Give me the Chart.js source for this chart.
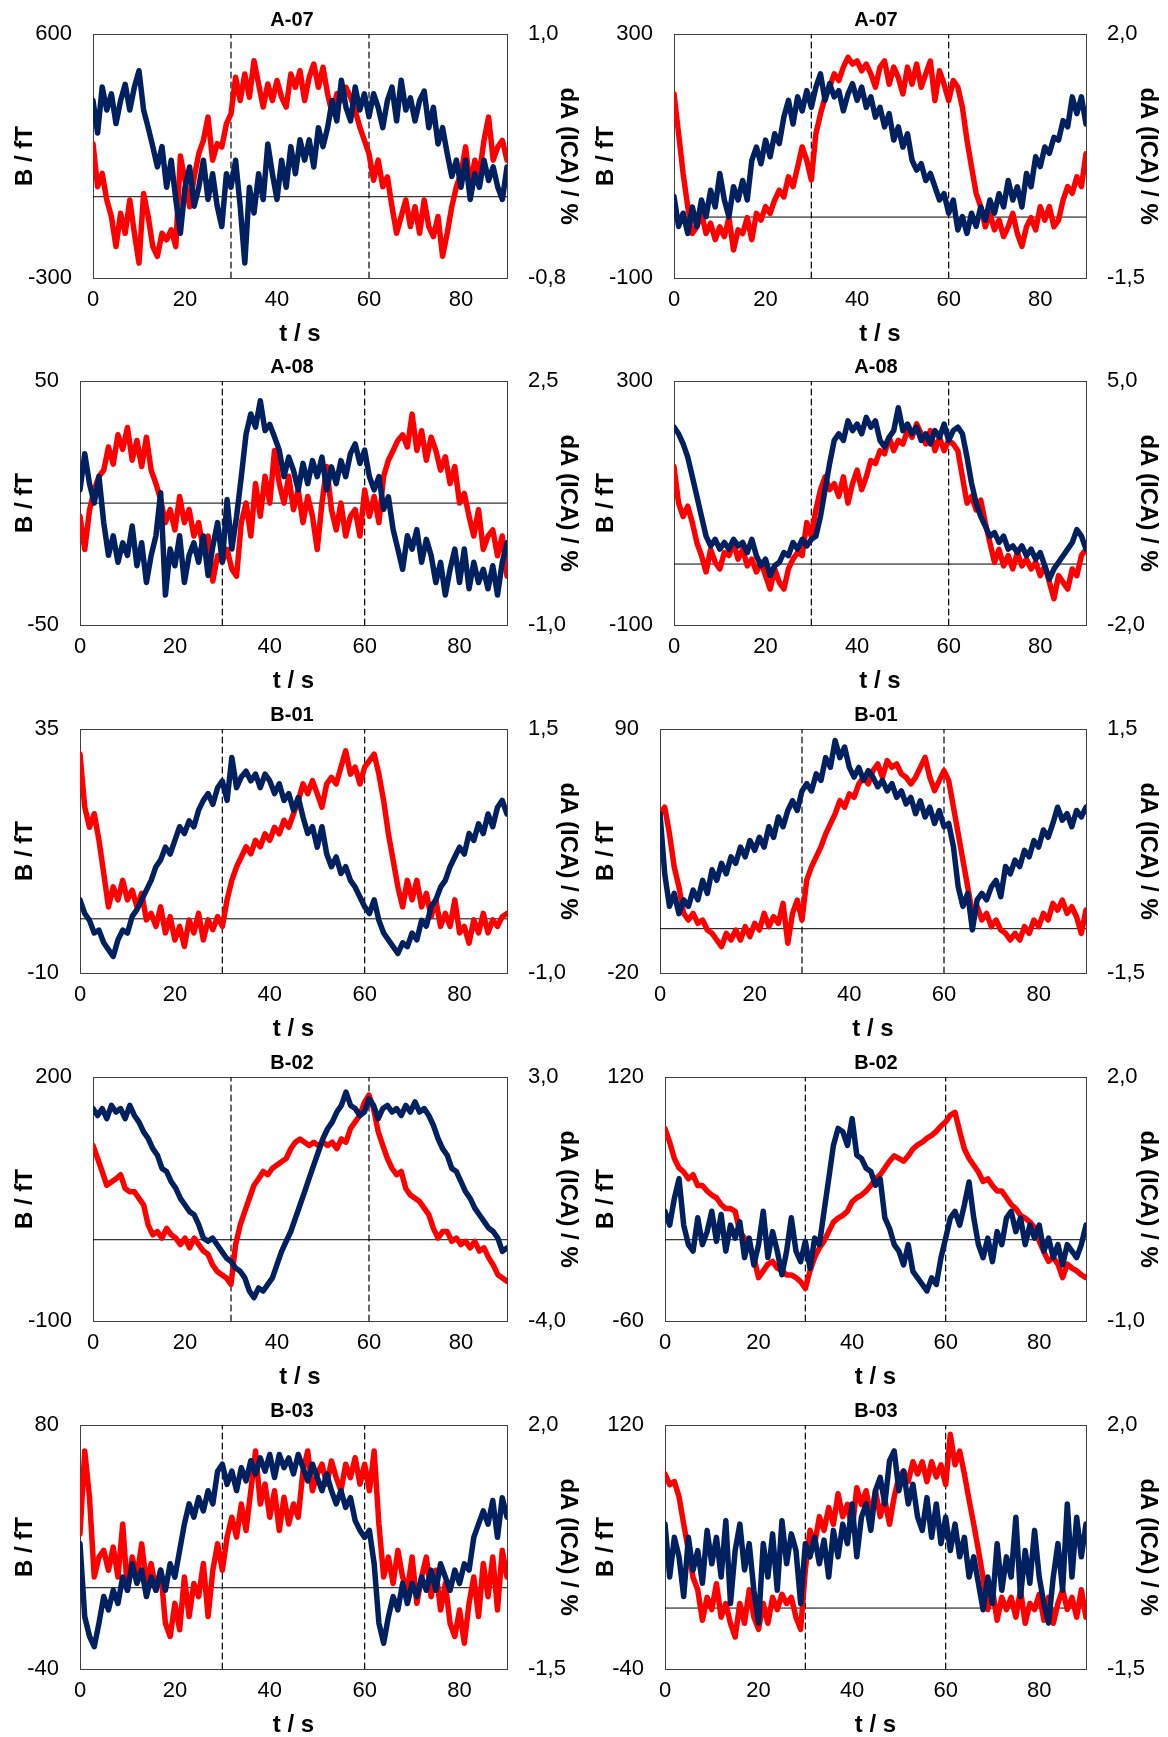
<!DOCTYPE html>
<html lang="en">
<head>
<meta charset="UTF-8">
<title>B / dA time courses</title>
<style>
  body { margin: 0; background: #fff; }
  #page { position: relative; width: 1168px; height: 1737px; overflow: hidden; }
  .panel { position: absolute; }
</style>
</head>
<body>
<div id="page"></div>
<script src="https://cdn.jsdelivr.net/npm/chart.js"></script>
<script>
// time axis in seconds (one sample per second)
const T = [0,1,2,3,4,5,6,7,8,9,10,11,12,13,14,15,16,17,18,19,20,21,22,23,24,25,26,27,28,29,30,
  31,32,33,34,35,36,37,38,39,40,41,42,43,44,45,46,47,48,49,50,51,52,53,54,55,56,57,58,59,60,
  61,62,63,64,65,66,67,68,69,70,71,72,73,74,75,76,77,78,79,80,81,82,83,84,85,86,87,88,89,90];
const X_TICKS = [0, 20, 40, 60, 80];
const STIM = [30, 60];

const PANEL_TITLES = ['A-07', 'A-07', 'A-08', 'A-08', 'B-01', 'B-01', 'B-02', 'B-02', 'B-03', 'B-03'];
const B_MIN  = [-300, -100, -50, -100, -10, -20, -100, -60, -40, -40];
const B_MAX  = [600, 300, 50, 300, 35, 90, 200, 120, 80, 120];
const DA_MIN = [-0.8, -1.5, -1.0, -2.0, -1.0, -1.5, -4.0, -1.0, -1.5, -1.5];
const DA_MAX = [1.0, 2.0, 2.5, 5.0, 1.5, 1.5, 3.0, 2.0, 2.0, 2.0];

// B / fT (red)
const B_A07_L = [196,37,86,-12,-73,-184,-61,-135,-12,-135, -245,12,-73,-184,-220,-135,-159,-122,-184,150,
  60,-37,73,159,208,294,135,196,184,269, 306,441,355,453,367,502,416,331,416,355,
  429,367,331,453,404,465,355,441,490,404, 478,380,306,380,355,404,367,318,257,208,
  159,61,135,37,73,-37,-135,-73,-12,-110, -37,-135,-12,-110,-147,-73,-220,-135,-37,37,
  86,184,37,135,86,208,294,135,184,208, 135];
const B_A07_R = [202,137,71,17,-27,-16,6,-27,-10,-37, -16,-32,-1,-54,-21,-27,-1,-37,6,-5,
  17,6,28,44,33,66,50,82,115,93, 61,137,169,197,213,235,224,246,262,251,
  256,240,251,235,213,246,256,218,246,229, 202,246,218,251,213,235,256,191,240,218,
  191,224,213,180,126,82,39,17,-16,6, -21,-5,-32,-16,6,-27,-48,-16,-1,-21,
  17,-5,17,-16,-5,28,50,39,66,50, 104];
const B_A08_L = [-5.4,-19,-3,5.4,11,13.5,23,16,28,22, 31,17.6,25.7,15,27,13.5,8,1.4,-8,-2.7,
  -11,2.7,-8,-2.7,-13.5,-8,-19,-13.5,-32,-21.6, -24,-19,-27,-30,-8,0,-13.5,8,-5.4,11,
  0,21.6,8,0,11,-2.7,5.4,-8,2.7,-5.4, -19,0,15,-2.7,-11,0,-13.5,-5.4,-2.7,-13.5,
  5.4,-5.4,2.7,-8,11,17.6,21.6,25.7,28,23, 36.5,21.6,29.7,17.6,27,21.6,13.5,19,8,15,
  0,4,-5.4,-13.5,-2.7,-19,-13.5,-11,-21.6,-13.5, -30];
const B_A08_R = [160,100,78,95,68,35,14,-13,24,3, -8,19,14,35,8,24,-3,8,-13,3,
  -19,-41,-8,-30,-41,-8,8,19,14,68, 46,89,122,143,122,132,111,143,100,132,
  154,122,143,170,165,186,181,208,186,203, 197,219,208,230,214,197,219,186,208,186,
  203,197,186,143,100,111,89,105,68,35, 3,24,-3,14,-8,19,-3,8,-8,3,
  -19,-3,-30,-57,-19,-30,-41,-8,-19,14, 24];
const B_B01_L = [30.4,20.6,16.9,19.4,14.5,8.4,2.2,5.9,3.5,7.1, 3.5,5.3,2.2,4.7,-0.2,1.0,-1.4,2.2,-2.6,0.4,
  -3.9,-1.4,-5.1,-0.2,-2.6,1.0,-3.9,-0.2,-2.0,0.4, -1.4,3.5,7.1,9.6,11.4,13.3,12.0,14.5,13.3,15.7,
  14.5,16.9,15.7,18.2,16.9,19.4,21.8,24.9,23.1,25.5, 23.1,20.6,24.9,26.1,24.9,28.0,31.0,26.7,28.0,24.9,
  28.0,29.2,30.4,26.7,21.8,15.7,10.8,5.9,2.2,7.1, 3.5,7.1,2.2,4.7,0.4,3.5,-1.4,1.0,-1.4,3.5,
  -2.6,-1.4,-4.5,-0.2,-2.6,1.0,-2.6,-0.2,-1.4,0.4, 1.0];
const B_B01_R = [51.8,54.8,42.8,27.9,18.9,6.9,3.9,6.9,2.4,3.9, -0.6,-2.1,-5.1,-8.1,-2.1,-5.1,-0.6,-5.1,0.9,-3.6,
  2.4,-0.6,6.9,0.9,5.4,2.4,11.4,-6.6,6.9,12.9, 3.9,21.9,27.9,32.4,36.9,42.8,47.3,51.8,57.8,54.8,
  60.8,59.3,65.3,68.3,65.3,71.3,74.3,68.3,75.8,72.8, 74.3,69.8,68.3,65.3,68.3,72.8,77.3,68.3,62.3,66.8,
  71.3,66.8,54.8,42.8,30.9,18.9,6.9,9.9,3.9,6.9, 0.9,3.9,-0.6,-2.1,-5.1,-2.1,-5.1,0.9,-2.1,3.9,
  0.9,6.9,3.9,11.4,8.4,12.9,6.9,9.9,5.4,-2.1, 8.4];
const B_B02_L = [116,100,84,67,71,75,80,63,59,59, 51,43,18,6,10,2,14,6,2,-6,
  2,-10,2,-6,-14,-18,-31,-39,-43,-47, -55,-6,18,35,51,67,75,84,80,88,
  92,96,100,112,120,124,120,116,120,116, 120,116,120,112,124,120,137,145,153,169,
  178,161,133,116,100,88,80,84,63,55, 51,47,39,31,14,2,10,10,-2,2,
  -6,-2,-10,-2,-14,-10,-22,-31,-43,-47, -51];
const B_B02_R = [82,72,60,53,50,45,48,40,40,36, 33,31,26,23,23,21,6,1,-4,-13,
  -28,-23,-18,-16,-21,-23,-26,-26,-28,-31, -36,-23,-13,-6,-1,6,13,16,18,21,
  28,31,33,36,40,45,48,53,58,62, 60,58,62,67,70,72,75,77,80,84,
  87,92,94,80,67,60,55,50,43,45, 40,36,36,31,26,23,18,16,13,9,
  -1,-9,-16,-13,-18,-28,-18,-21,-23,-26, -28];
const B_B03_L = [26.5,67.3,44.5,5.3,15.1,18.4,8.6,20.0,5.3,31.4, -1.2,15.1,5.3,21.6,2.1,11.9,-1.2,8.6,-17.5,-24.0,
  -7.7,-20.7,5.3,-14.2,2.1,-4.4,11.9,-14.2,8.6,21.6, 8.6,24.9,34.7,24.9,41.2,28.2,47.7,67.3,41.2,51.0,
  34.7,47.7,28.2,44.5,31.4,41.2,34.7,57.5,67.3,47.7, 55.9,60.8,51.0,62.4,54.2,47.7,60.8,54.2,64.0,51.0,
  60.8,47.7,67.3,31.4,5.3,15.1,2.1,18.4,5.3,-1.2, 15.1,-7.7,5.3,15.1,-4.4,8.6,-11.0,2.1,-17.5,-24.0,
  -11.0,-27.3,-7.7,5.3,-14.2,11.9,-4.4,15.1,-11.0,18.4, 5.3];
const B_B03_R = [88,81,83,73,55,38,20,12,-8,7, -1,16,-6,3,-10,-19,3,-10,12,-6,
  -14,3,-10,7,-1,9,3,7,-6,-14, 25,51,42,60,51,66,55,75,60,68,
  51,79,68,77,60,77,60,71,55,73, 86,90,83,96,88,96,83,96,86,94,
  81,114,94,103,88,71,55,38,20,-1, 12,-8,7,-1,7,-6,12,-10,3,-1,
  9,-8,7,-10,3,12,-1,7,-6,12, -6];

// dA (ICA) / % (dark blue)
const DA_A07_L = [0.51,0.27,0.61,0.44,0.56,0.34,0.51,0.63,0.44,0.61, 0.73,0.44,0.31,0.17,0.02,0.17,-0.13,0.07,-0.22,-0.47,
  -0.13,0.02,-0.27,-0.13,0.07,-0.22,-0.03,-0.27,-0.42,-0.03, -0.13,0.07,-0.27,-0.69,-0.13,-0.32,-0.03,-0.22,0.19,-0.03,
  -0.22,0.07,-0.13,0.17,-0.03,0.22,0.07,0.22,0.02,0.31, 0.17,0.31,0.51,0.36,0.66,0.46,0.36,0.61,0.44,0.56,
  0.39,0.56,0.46,0.31,0.51,0.61,0.36,0.66,0.44,0.53, 0.36,0.51,0.58,0.31,0.46,0.19,0.31,0.12,-0.05,0.07,
  -0.13,0.07,-0.22,-0.03,-0.13,0.07,-0.08,0.02,-0.13,-0.22, 0.02];
const DA_A07_R = [-0.33,-0.76,-0.57,-0.86,-0.48,-0.76,-0.38,-0.62,-0.24,-0.48, 0.0,-0.38,-0.62,-0.19,-0.38,-0.10,-0.38,0.19,0.38,0.14,
  0.48,0.24,0.57,0.43,0.81,1.05,0.71,1.10,0.90,1.19, 0.95,1.24,1.43,1.05,1.29,1.10,1.19,0.90,1.14,1.29,
  1.05,1.24,0.95,1.10,0.81,0.95,0.67,0.86,0.48,0.67, 0.38,0.57,0.19,0.05,0.14,-0.10,0.0,-0.19,-0.38,-0.29,
  -0.57,-0.38,-0.81,-0.62,-0.86,-0.57,-0.76,-0.48,-0.67,-0.38, -0.57,-0.29,-0.48,-0.10,-0.38,-0.19,-0.48,0.0,-0.19,0.24,
  0.10,0.38,0.29,0.52,0.48,0.76,0.67,1.10,0.86,1.10, 0.71];
const DA_A08_L = [0.94,1.46,1.03,0.75,1.13,0.47,0.0,0.28,-0.10,0.18, 0.0,0.42,-0.15,0.18,-0.39,0.0,0.28,0.9,-0.57,0.09,
  -0.15,0.28,-0.39,0.0,0.18,-0.10,0.28,-0.29,0.13,0.47, -0.10,0.80,0.09,0.56,1.13,1.74,2.03,1.84,2.22,1.79,
  1.88,1.70,1.51,1.13,1.41,1.22,0.94,1.32,1.03,1.36, 1.13,1.41,0.94,1.27,1.03,1.36,1.13,1.46,1.60,1.32,
  1.51,1.13,0.94,1.13,0.66,0.84,0.37,0.09,-0.20,0.28, 0.09,0.37,-0.10,0.23,0.0,-0.39,-0.10,-0.57,-0.20,0.09,
  -0.39,0.09,-0.48,-0.10,-0.39,-0.20,-0.48,-0.15,-0.57,-0.10, 0.18];
const DA_A08_R = [3.68,3.49,3.20,2.82,2.26,1.69,1.12,0.55,0.27,0.46, 0.18,0.37,0.18,0.46,0.27,0.37,0.08,0.46,-0.01,-0.30,
  -0.11,-0.58,-0.30,-0.20,0.08,-0.01,0.37,0.18,0.46,0.27, 0.46,0.55,1.12,1.88,2.64,3.30,3.49,3.30,3.86,3.58,
  3.77,3.49,3.96,3.68,3.86,3.30,3.11,3.39,3.58,4.24, 3.58,3.77,3.49,3.68,3.30,3.49,3.20,3.58,3.39,3.77,
  3.30,3.58,3.68,3.49,2.82,2.07,1.50,1.12,0.84,0.55, 0.65,0.37,0.55,0.18,0.27,0.08,0.27,-0.01,0.18,-0.11,
  0.08,-0.30,-0.68,-0.39,-0.20,-0.01,0.18,0.37,0.74,0.55, 0.18];
const DA_B01_L = [-0.25,-0.39,-0.46,-0.59,-0.56,-0.69,-0.76,-0.83,-0.66,-0.56, -0.59,-0.42,-0.35,-0.25,-0.15,-0.05,0.09,0.16,0.29,0.22,
  0.36,0.50,0.43,0.56,0.50,0.67,0.77,0.84,0.73,0.90, 0.97,0.77,1.21,0.90,1.01,1.07,0.97,1.04,0.90,1.04,
  0.97,0.84,0.94,0.77,0.84,0.67,0.80,0.60,0.43,0.50, 0.29,0.50,0.22,0.09,0.19,0.02,0.09,-0.05,-0.12,-0.22,
  -0.32,-0.39,-0.25,-0.46,-0.59,-0.66,-0.73,-0.80,-0.69,-0.73, -0.59,-0.66,-0.46,-0.52,-0.32,-0.25,-0.12,-0.05,0.09,0.19,
  0.29,0.22,0.43,0.36,0.53,0.43,0.63,0.50,0.70,0.77, 0.63];
const DA_B01_R = [0.46,-0.28,-0.68,-0.52,-0.77,-0.60,-0.68,-0.48,-0.60,-0.36, -0.52,-0.23,-0.36,-0.15,-0.28,-0.07,-0.15,0.05,-0.07,0.13,
  0.01,0.17,0.05,0.30,0.17,0.42,0.30,0.50,0.62,0.50, 0.74,0.83,0.74,0.95,0.87,1.15,1.03,1.36,1.15,1.28,
  1.03,0.91,1.03,0.87,0.99,0.91,0.79,0.87,0.74,0.83, 0.66,0.74,0.58,0.66,0.46,0.62,0.42,0.54,0.34,0.50,
  0.30,0.34,0.05,-0.44,-0.68,-0.52,-0.97,-0.60,-0.52,-0.60, -0.44,-0.36,-0.56,-0.19,-0.28,-0.11,-0.19,0.01,-0.07,0.13,
  0.05,0.26,0.17,0.34,0.54,0.38,0.46,0.30,0.50,0.42, 0.54];
const DA_B02_L = [2.10,1.90,2.10,1.81,2.19,2.00,2.10,1.81,2.19,1.90, 1.71,1.43,1.24,0.95,0.76,0.38,0.29,0.0,-0.19,-0.48,
  -0.67,-0.86,-0.95,-1.24,-1.62,-1.71,-1.62,-1.81,-2.00,-2.19, -2.29,-2.48,-2.57,-2.76,-3.14,-3.33,-3.05,-3.14,-2.95,-2.76,
  -2.38,-2.00,-1.71,-1.43,-1.05,-0.67,-0.29,0.10,0.48,0.86, 1.24,1.52,1.71,2.00,2.19,2.57,2.19,2.10,1.90,2.00,
  2.38,2.19,1.81,2.10,2.19,2.00,2.10,1.90,2.19,2.00, 2.29,2.00,2.10,1.90,1.62,1.24,0.95,0.76,0.38,0.29,
  0.0,-0.29,-0.48,-0.76,-0.95,-1.14,-1.33,-1.43,-1.62,-2.00, -1.90];
const DA_B02_R = [0.35,0.18,0.51,0.75,0.18,-0.06,-0.14,0.27,-0.06,0.10, 0.35,-0.02,0.31,-0.14,0.18,0.02,0.22,-0.22,0.02,-0.31,
  -0.06,0.35,-0.22,0.10,-0.14,-0.43,-0.14,0.27,-0.14,-0.27, -0.02,-0.35,0.02,-0.06,0.35,0.75,1.16,1.37,1.33,1.16,
  1.49,1.04,1.00,0.88,0.84,0.67,0.75,0.27,0.14,-0.06, -0.14,-0.31,-0.06,-0.39,-0.47,-0.55,-0.63,-0.47,-0.55,-0.22,
  0.02,0.27,0.35,0.18,0.43,0.71,0.27,-0.06,-0.22,0.02, -0.27,0.10,-0.06,0.27,0.35,0.10,0.27,-0.06,0.18,0.02,
  0.18,-0.14,0.02,-0.22,-0.06,-0.31,-0.06,-0.14,-0.22,-0.06, 0.18];
const DA_B03_L = [0.30,-0.75,-1.03,-1.18,-0.84,-0.46,-0.65,-0.37,-0.56,-0.18, -0.37,0.01,-0.27,-0.08,-0.46,-0.18,-0.37,-0.08,-0.37,0.01,
  -0.18,0.20,0.58,0.87,0.68,0.96,0.77,1.06,0.87,1.34, 1.44,1.15,1.34,1.06,1.39,1.20,1.49,1.30,1.53,1.34,
  1.58,1.25,1.58,1.39,1.53,1.30,1.58,1.39,1.20,1.44, 1.25,1.06,1.30,1.06,0.87,1.06,0.82,0.96,0.63,0.49,
  0.39,0.49,0.01,-0.84,-1.13,-0.75,-0.46,-0.65,-0.27,-0.56, -0.27,-0.46,-0.18,-0.37,-0.08,-0.37,0.01,-0.18,-0.37,-0.08,
  -0.27,0.01,-0.08,0.39,0.58,0.77,0.58,0.92,0.39,0.96, 0.68];
const DA_B03_R = [0.58,-0.18,0.39,0.11,-0.46,0.39,-0.08,0.20,-0.27,0.49, 0.01,0.39,-0.18,0.63,-0.56,0.20,0.58,-0.08,0.30,-0.37,
  -0.84,0.30,-0.18,0.44,-0.37,0.63,0.01,0.44,0.20,-0.56, 0.30,0.11,0.39,0.01,0.35,-0.18,0.49,0.11,0.58,0.30,
  0.87,0.11,0.68,0.87,0.49,1.06,1.25,0.87,1.49,1.63, 1.06,1.34,0.87,1.15,0.68,0.49,0.96,0.39,0.87,0.30,
  0.68,0.20,0.58,0.11,0.39,-0.18,0.11,-0.27,-0.65,-0.18, -0.56,0.30,-0.37,0.11,-0.18,0.68,-0.46,0.20,-0.27,0.49,
  -0.18,-0.56,-0.84,-0.18,0.30,-0.37,0.87,-0.18,0.68,0.11, 0.58];

const B_SERIES  = [B_A07_L, B_A07_R, B_A08_L, B_A08_R, B_B01_L, B_B01_R, B_B02_L, B_B02_R, B_B03_L, B_B03_R];
const DA_SERIES = [DA_A07_L, DA_A07_R, DA_A08_L, DA_A08_R, DA_B01_L, DA_B01_R, DA_B02_L, DA_B02_R, DA_B03_L, DA_B03_R];

// page layout (px)
const ROW_PLOT_TOP = [33, 380, 728, 1076, 1424];
const PLOT_H = 245;
const TOP_SPACE = 33, BOTTOM_SPACE = 71;
const COL_W = 584;
const PLOT_LEFT = [93, 674, 80, 674, 80, 660, 93, 665, 80, 665];
const PLOT_RIGHT = [507, 1086];

Chart.defaults.font.family = "'Liberation Sans', Arial, sans-serif";
Chart.defaults.color = '#000';

const RED = '#ff0000';
const NAVY = '#002060';
const FRAME = '#404040';

function commaNum(v) {
  return v.toFixed(1).replace('.', ',');
}

function drawPanel(i) {
  const col = i % 2;
  const row = Math.floor(i / 2);
  const left = col * COL_W;
  const top = ROW_PLOT_TOP[row] - TOP_SPACE;
  const h = TOP_SPACE + PLOT_H + BOTTOM_SPACE;

  const wrap = document.createElement('div');
  wrap.className = 'panel';
  wrap.style.left = left + 'px';
  wrap.style.top = top + 'px';
  const cv = document.createElement('canvas');
  cv.width = COL_W;
  cv.height = h;
  wrap.appendChild(cv);
  document.getElementById('page').appendChild(wrap);

  const leftW = PLOT_LEFT[i] - left;
  const rightW = left + COL_W - PLOT_RIGHT[col];
  const bMin = B_MIN[i], bMax = B_MAX[i];

  const datasets = [
    {
      data: T.map((t, k) => ({ x: t, y: DA_SERIES[i][k] })),
      yAxisID: 'y1', borderColor: NAVY, borderWidth: 5.5, order: 1
    },
    {
      data: T.map((t, k) => ({ x: t, y: B_SERIES[i][k] })),
      yAxisID: 'y', borderColor: RED, borderWidth: 5.5, order: 2
    },
    {
      data: [{ x: T[0], y: 0 }, { x: T[T.length - 1], y: 0 }],
      yAxisID: 'y', borderColor: '#000', borderWidth: 1, order: 5
    }
  ];
  STIM.forEach(s => {
    datasets.push({
      data: [{ x: s, y: bMin }, { x: s, y: bMax }],
      yAxisID: 'y', borderColor: '#000', borderWidth: 1.2, borderDash: [6, 4], order: 5
    });
  });

  new Chart(cv, {
    type: 'line',
    data: { datasets: datasets },
    options: {
      responsive: false,
      animation: false,
      events: [],
      elements: { point: { radius: 0 }, line: { tension: 0, borderJoinStyle: 'round', borderCapStyle: 'round' } },
      layout: { padding: 0 },
      plugins: {
        legend: { display: false },
        tooltip: { enabled: false },
        title: {
          display: true,
          text: PANEL_TITLES[i],
          font: { size: 20, weight: 'bold' },
          color: '#000',
          padding: { top: 7, bottom: 2 }
        }
      },
      scales: {
        x: {
          type: 'linear', position: 'bottom', min: 0, max: 90,
          grid: { display: false, drawTicks: false },
          border: { display: true, color: FRAME, width: 1 },
          afterBuildTicks: s => { s.ticks = X_TICKS.map(v => ({ value: v })); },
          ticks: { font: { size: 22 }, color: '#000', padding: 9, maxRotation: 0 },
          title: { display: true, text: 't / s', font: { size: 24, weight: 'bold' }, color: '#000', padding: { top: 0, bottom: 0 } },
          afterFit: s => { s.height = BOTTOM_SPACE; }
        },
        xTop: {
          type: 'linear', position: 'top', min: 0, max: 90,
          grid: { display: false, drawTicks: false },
          border: { display: true, color: FRAME, width: 1 },
          ticks: { display: false },
          afterFit: s => { s.height = 0; }
        },
        y: {
          type: 'linear', position: 'left', min: bMin, max: bMax,
          grid: { display: false, drawTicks: false },
          border: { display: true, color: FRAME, width: 1 },
          afterBuildTicks: s => { s.ticks = [{ value: bMin }, { value: bMax }]; },
          ticks: { font: { size: 22 }, color: '#000', padding: 21, callback: v => String(v) },
          title: { display: true, text: 'B / fT', font: { size: 24, weight: 'bold' }, color: '#000',
                   padding: { top: col ? 7.6 : 10.6, bottom: 0 } },
          afterFit: s => { s.width = leftW; }
        },
        y1: {
          type: 'linear', position: 'right', min: DA_MIN[i], max: DA_MAX[i],
          grid: { display: false, drawTicks: false },
          border: { display: true, color: FRAME, width: 1 },
          afterBuildTicks: s => { s.ticks = [{ value: DA_MIN[i] }, { value: DA_MAX[i] }]; },
          ticks: { font: { size: 22 }, color: '#000', padding: 21, callback: v => commaNum(v) },
          title: { display: true, text: 'dA (ICA) / %', font: { size: 24, weight: 'bold' }, color: '#000',
                   padding: { top: col ? 5.6 : 1.6, bottom: 0 } },
          afterFit: s => { s.width = rightW; }
        }
      }
    }
  });
}

for (let i = 0; i < PANEL_TITLES.length; i++) {
  drawPanel(i);
}
</script>
</body>
</html>
